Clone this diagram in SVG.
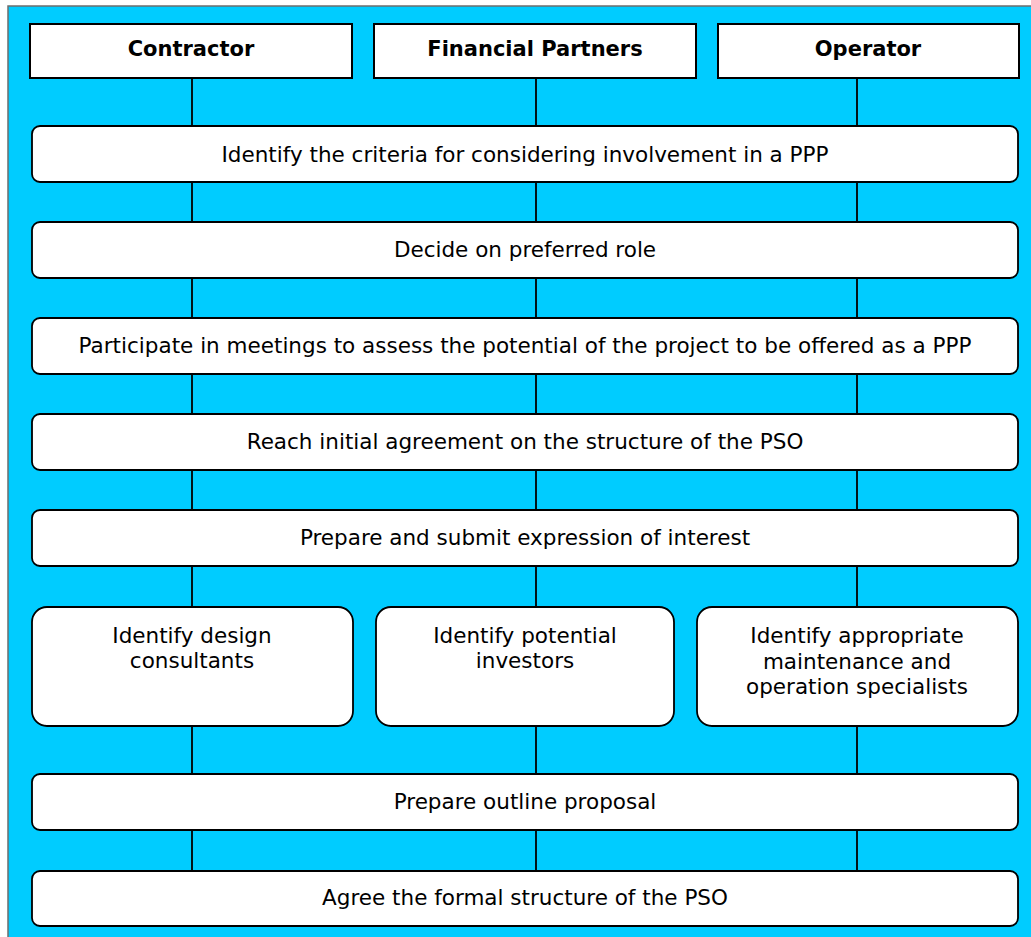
<svg xmlns="http://www.w3.org/2000/svg" width="1031" height="937" viewBox="0 0 1031 937">
<style>
.bg{fill:#00CCFF;stroke:#6e6e6e;stroke-width:1.5}
.hdr{fill:#fff;stroke:#000;stroke-width:2}
.box{fill:#fff;stroke:#000;stroke-width:1.8}
.ln{stroke:#000;stroke-width:1.8;fill:none}
text{font-family:"DejaVu Sans",Verdana,sans-serif;font-size:21.5px;fill:#000;text-anchor:middle}
.b{font-weight:bold;font-size:21px}
</style>
<rect width="1031" height="937" fill="#fff"/>
<rect class="bg" x="8" y="6" width="1030" height="940"/>
<g id="connectors">
<path class="ln" d="M192 78V126M536 78V126M857 78V126M192 182V222M536 182V222M857 182V222M192 278V318M536 278V318M857 278V318M192 374V414M536 374V414M857 374V414M192 470V510M536 470V510M857 470V510M192 566V607M536 566V607M857 566V607M192 726V774M536 726V774M857 726V774M192 830V871M536 830V871M857 830V871"/>
</g>
<g id="contractor"><rect class="hdr" x="30" y="24" width="322" height="54"/><text class="b" x="191" y="56">Contractor</text></g>
<g id="financial"><rect class="hdr" x="374" y="24" width="322" height="54"/><text class="b" x="535" y="56">Financial Partners</text></g>
<g id="operator"><rect class="hdr" x="718" y="24" width="301" height="54"/><text class="b" x="868" y="56">Operator</text></g>
<g id="step1"><rect class="box" x="32" y="126" width="986" height="56" rx="8"/><text x="525" y="162">Identify the criteria for considering involvement in a PPP</text></g>
<g id="step2"><rect class="box" x="32" y="222" width="986" height="56" rx="8"/><text x="525" y="257">Decide on preferred role</text></g>
<g id="step3"><rect class="box" x="32" y="318" width="986" height="56" rx="8"/><text x="525" y="353">Participate in meetings to assess the potential of the project to be offered as a PPP</text></g>
<g id="step4"><rect class="box" x="32" y="414" width="986" height="56" rx="8"/><text x="525" y="449">Reach initial agreement on the structure of the PSO</text></g>
<g id="step5"><rect class="box" x="32" y="510" width="986" height="56" rx="8"/><text x="525" y="545">Prepare and submit expression of interest</text></g>
<g id="step6a"><rect class="box" x="32" y="607" width="321" height="119" rx="15"/><text x="192" y="643">Identify design</text><text x="192" y="668">consultants</text></g>
<g id="step6b"><rect class="box" x="376" y="607" width="298" height="119" rx="15"/><text x="525" y="643">Identify potential</text><text x="525" y="668">investors</text></g>
<g id="step6c"><rect class="box" x="697" y="607" width="321" height="119" rx="15"/><text x="857" y="643">Identify appropriate</text><text x="857" y="669">maintenance and</text><text x="857" y="694">operation specialists</text></g>
<g id="step7"><rect class="box" x="32" y="774" width="986" height="56" rx="8"/><text x="525" y="809">Prepare outline proposal</text></g>
<g id="step8"><rect class="box" x="32" y="871" width="986" height="55" rx="8"/><text x="525" y="905">Agree the formal structure of the PSO</text></g>
</svg>
